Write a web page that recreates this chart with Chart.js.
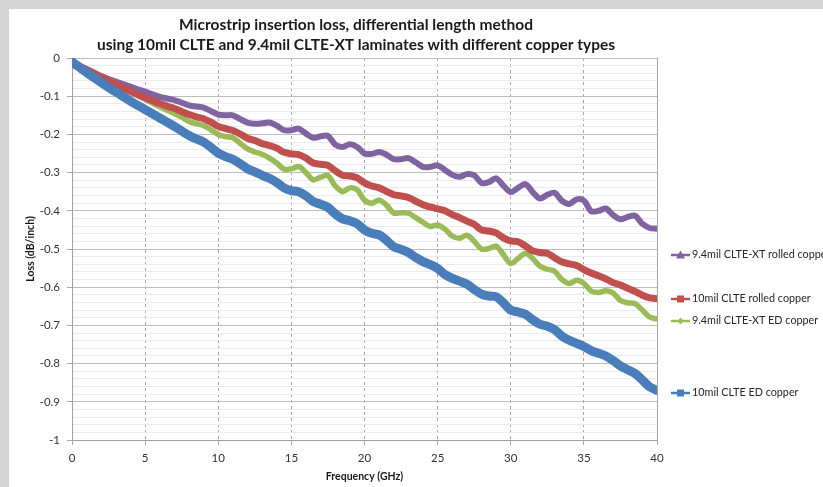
<!DOCTYPE html>
<html>
<head>
<meta charset="utf-8">
<script src="https://cdn.jsdelivr.net/npm/chart.js@4.4.1/dist/chart.umd.min.js"></script>
<style>
html,body{margin:0;padding:0;background:#d4d4d4;overflow:hidden;}
canvas{display:block;}
</style>
</head>
<body>
<canvas id="c" width="823" height="487"></canvas>
<script>
// ---------------- data ----------------
const chartTitle = ['Microstrip insertion loss, differential length method',
                    'using 10mil CLTE and 9.4mil CLTE-XT laminates with different copper types'];
const xAxisTitle = 'Frequency (GHz)';
const yAxisTitle = 'Loss (dB/inch)';
const xTickValues = [0, 5, 10, 15, 20, 25, 30, 35, 40];
const yTickValues = [0, -0.1, -0.2, -0.3, -0.4, -0.5, -0.6, -0.7, -0.8, -0.9, -1];

const seriesNames = ['10mil CLTE ED copper', '10mil CLTE rolled copper',
                     '9.4mil CLTE-XT ED copper', '9.4mil CLTE-XT rolled copper'];

const frequencies = [0,0.5,1,1.5,2,2.5,3,3.5,4,4.5,5,5.5,6,6.5,7,7.5,8,8.5,9,9.5,
  10,10.5,11,11.5,12,12.5,13,13.5,14,14.5,15,15.5,16,16.5,17,17.5,18,18.5,19,19.5,
  20,20.5,21,21.5,22,22.5,23,23.5,24,24.5,25,25.5,26,26.5,27,27.5,28,28.5,29,29.5,
  30,30.5,31,31.5,32,32.5,33,33.5,34,34.5,35,35.5,36,36.5,37,37.5,38,38.5,39,39.5,40];

const lossCLTE_ED = [-0.010,-0.024,-0.038,-0.051,-0.064,-0.077,-0.089,-0.101,-0.113,-0.124,
 -0.135,-0.146,-0.157,-0.168,-0.179,-0.191,-0.203,-0.212,-0.220,-0.234,
 -0.249,-0.258,-0.265,-0.277,-0.290,-0.298,-0.307,-0.315,-0.326,-0.340,
 -0.347,-0.350,-0.361,-0.376,-0.383,-0.391,-0.408,-0.421,-0.426,-0.434,
 -0.450,-0.459,-0.463,-0.477,-0.494,-0.501,-0.509,-0.522,-0.533,-0.541,
 -0.551,-0.567,-0.577,-0.584,-0.592,-0.606,-0.618,-0.623,-0.625,-0.641,
 -0.660,-0.665,-0.671,-0.685,-0.697,-0.702,-0.711,-0.728,-0.739,-0.747,
 -0.755,-0.766,-0.773,-0.780,-0.792,-0.806,-0.816,-0.826,-0.843,-0.861,
 -0.870];

const lossCLTE_rolled = [-0.010,-0.021,-0.031,-0.041,-0.051,-0.060,-0.069,-0.078,-0.087,-0.096,
 -0.104,-0.112,-0.119,-0.126,-0.132,-0.140,-0.148,-0.154,-0.159,-0.168,
 -0.179,-0.185,-0.190,-0.199,-0.210,-0.216,-0.224,-0.229,-0.236,-0.247,
 -0.251,-0.253,-0.262,-0.275,-0.278,-0.281,-0.295,-0.307,-0.309,-0.314,
 -0.327,-0.335,-0.340,-0.349,-0.358,-0.361,-0.365,-0.375,-0.384,-0.390,
 -0.395,-0.400,-0.410,-0.418,-0.427,-0.435,-0.450,-0.453,-0.458,-0.471,
 -0.479,-0.481,-0.492,-0.505,-0.509,-0.511,-0.523,-0.534,-0.539,-0.543,
 -0.554,-0.563,-0.570,-0.578,-0.588,-0.594,-0.603,-0.611,-0.621,-0.628,
 -0.630];

const lossXT_ED = [-0.010,-0.021,-0.031,-0.041,-0.051,-0.061,-0.070,-0.080,-0.089,-0.099,
 -0.108,-0.118,-0.128,-0.137,-0.145,-0.155,-0.166,-0.172,-0.177,-0.188,
 -0.200,-0.206,-0.209,-0.223,-0.238,-0.246,-0.252,-0.262,-0.275,-0.291,
 -0.290,-0.284,-0.300,-0.319,-0.312,-0.308,-0.335,-0.350,-0.340,-0.345,
 -0.372,-0.380,-0.372,-0.385,-0.406,-0.405,-0.406,-0.418,-0.430,-0.441,
 -0.437,-0.448,-0.466,-0.472,-0.464,-0.480,-0.500,-0.499,-0.492,-0.515,
 -0.538,-0.525,-0.511,-0.525,-0.545,-0.553,-0.558,-0.580,-0.590,-0.582,
 -0.590,-0.610,-0.614,-0.609,-0.615,-0.635,-0.641,-0.643,-0.660,-0.678,
 -0.683];

const lossXT_rolled = [-0.010,-0.020,-0.029,-0.038,-0.047,-0.055,-0.062,-0.068,-0.075,-0.082,
 -0.088,-0.095,-0.102,-0.106,-0.110,-0.117,-0.124,-0.127,-0.130,-0.139,
 -0.148,-0.150,-0.150,-0.160,-0.169,-0.172,-0.171,-0.169,-0.177,-0.189,
 -0.189,-0.185,-0.198,-0.209,-0.205,-0.204,-0.227,-0.233,-0.226,-0.233,
 -0.250,-0.251,-0.246,-0.253,-0.265,-0.265,-0.262,-0.273,-0.285,-0.285,
 -0.281,-0.293,-0.306,-0.311,-0.304,-0.307,-0.327,-0.325,-0.315,-0.334,
 -0.351,-0.340,-0.330,-0.351,-0.368,-0.358,-0.353,-0.374,-0.382,-0.370,
 -0.373,-0.401,-0.400,-0.394,-0.411,-0.422,-0.416,-0.413,-0.434,-0.445,
 -0.447];

// ---------------- styles ----------------
const seriesStyles = [
  {color:'#4a7ebb', width:9,   marker:'square'},
  {color:'#c0504d', width:7,   marker:'square'},
  {color:'#9bbb59', width:5.5, marker:'diamond'},
  {color:'#8064a2', width:6,   marker:'triangle'}
];
const seriesValues = [lossCLTE_ED, lossCLTE_rolled, lossXT_ED, lossXT_rolled];
const FONT = 'Lato, "Open Sans", sans-serif';

const toPoints = vals => frequencies.map((f, i) => ({x: f, y: vals[i]}));

const datasets = seriesNames.map((name, i) => ({
  label: name,
  data: toPoints(seriesValues[i]),
  borderColor: seriesStyles[i].color,
  backgroundColor: seriesStyles[i].color,
  borderWidth: seriesStyles[i].width,
  pointRadius: 0,
  tension: 0.3,
  fill: false,
  borderJoinStyle: 'round',
  borderCapStyle: 'round'
}));

// background panel + title + side legend
const decorPlugin = {
  id: 'decor',
  beforeDraw(chart) {
    const ctx = chart.ctx;
    ctx.save();
    ctx.fillStyle = '#d4d4d4';
    ctx.fillRect(0, 0, chart.width, chart.height);
    ctx.fillStyle = '#ffffff';
    ctx.fillRect(9, 9, chart.width - 9, chart.height - 9);
    ctx.restore();
  },
  afterDraw(chart) {
    const ctx = chart.ctx;
    ctx.save();
    ctx.fillStyle = '#1a1a1a';
    ctx.font = 'bold 15.5px ' + FONT;
    ctx.textAlign = 'center';
    ctx.textBaseline = 'middle';
    ctx.fillText(chartTitle[0], 356, 25);
    ctx.fillText(chartTitle[1], 356, 45);

    // legend entries placed beside the series ends
    const rows = [{ds:3, y:255}, {ds:1, y:299}, {ds:2, y:321}, {ds:0, y:393}];
    rows.forEach(r => {
      const st = seriesStyles[r.ds];
      ctx.strokeStyle = st.color;
      ctx.fillStyle = st.color;
      ctx.lineWidth = 2.5;
      ctx.beginPath();
      ctx.moveTo(671, r.y);
      ctx.lineTo(690, r.y);
      ctx.stroke();
      const cx = 680.5, cy = r.y;
      ctx.beginPath();
      if (st.marker === 'square') {
        ctx.rect(cx - 3.5, cy - 3.5, 7, 7);
      } else if (st.marker === 'triangle') {
        ctx.moveTo(cx, cy - 4.5); ctx.lineTo(cx + 4.5, cy + 3.5); ctx.lineTo(cx - 4.5, cy + 3.5); ctx.closePath();
      } else {
        ctx.moveTo(cx, cy - 3.5); ctx.lineTo(cx + 3, cy); ctx.lineTo(cx, cy + 3.5); ctx.lineTo(cx - 3, cy); ctx.closePath();
      }
      ctx.fill();
      ctx.fillStyle = '#262626';
      ctx.font = '10.8px ' + FONT;
      ctx.textAlign = 'left';
      ctx.textBaseline = 'middle';
      ctx.fillText(seriesNames[r.ds], 692, r.y);
    });
    ctx.restore();
  }
};

const isMajorY = v => Math.abs(Math.round(v * 50)) % 5 === 0;

new Chart(document.getElementById('c'), {
  type: 'line',
  data: {datasets},
  plugins: [decorPlugin],
  options: {
    responsive: false,
    animation: false,
    devicePixelRatio: 1,
    layout: {padding: {left: 20, right: 166, top: 58, bottom: 0}},
    plugins: {legend: {display: false}, tooltip: {enabled: false}, title: {display: false}},
    scales: {
      x: {
        type: 'linear', min: 0, max: 40,
        afterFit: s => { s.height = 47; },
        afterBuildTicks: s => { s.ticks = xTickValues.map(v => ({value: v})); },
        ticks: {stepSize: 5, color: '#333', padding: 6, font: {family: FONT, size: 11.5}, maxRotation: 0,
                callback: v => String(v)},
        grid: {color: '#a6a6a6', lineWidth: 1, drawTicks: true, tickLength: 5, tickColor: '#a6a6a6'},
        border: {display: true, color: '#a0a0a0', width: 1, dash: [3, 3]},
        title: {display: true, text: xAxisTitle, color: '#1a1a1a', padding: {top: 0, bottom: 4},
                font: {family: FONT, size: 10.5, weight: 'bold'}}
      },
      y: {
        type: 'linear', min: -1, max: 0,
        afterFit: s => { s.width = 52; },
        ticks: {stepSize: 0.02, autoSkip: false, color: '#333', padding: 7, font: {family: FONT, size: 11.5},
                callback: v => {
                  if (!isMajorY(v)) return '';
                  const m = yTickValues.find(t => Math.abs(t - v) < 1e-6);
                  return m === undefined ? '' : String(m);
                }},
        grid: {
          color: c => isMajorY(c.tick.value) ? '#bdbdbd' : '#ebebeb',
          tickColor: c => isMajorY(c.tick.value) ? '#a6a6a6' : 'rgba(0,0,0,0)',
          lineWidth: 1, drawTicks: true, tickLength: 5
        },
        border: {display: true, color: '#a0a0a0', width: 1},
        title: {display: true, text: yAxisTitle, color: '#1a1a1a', padding: {top: 4, bottom: 0},
                font: {family: FONT, size: 10.5, weight: 'bold'}}
      },
      yr: {
        type: 'linear', position: 'right', min: -1, max: 0,
        afterFit: s => { s.width = 0; },
        ticks: {display: false},
        grid: {display: false, drawTicks: false},
        border: {display: true, color: '#a6a6a6', width: 1}
      }
    }
  }
});
</script>
</body>
</html>
